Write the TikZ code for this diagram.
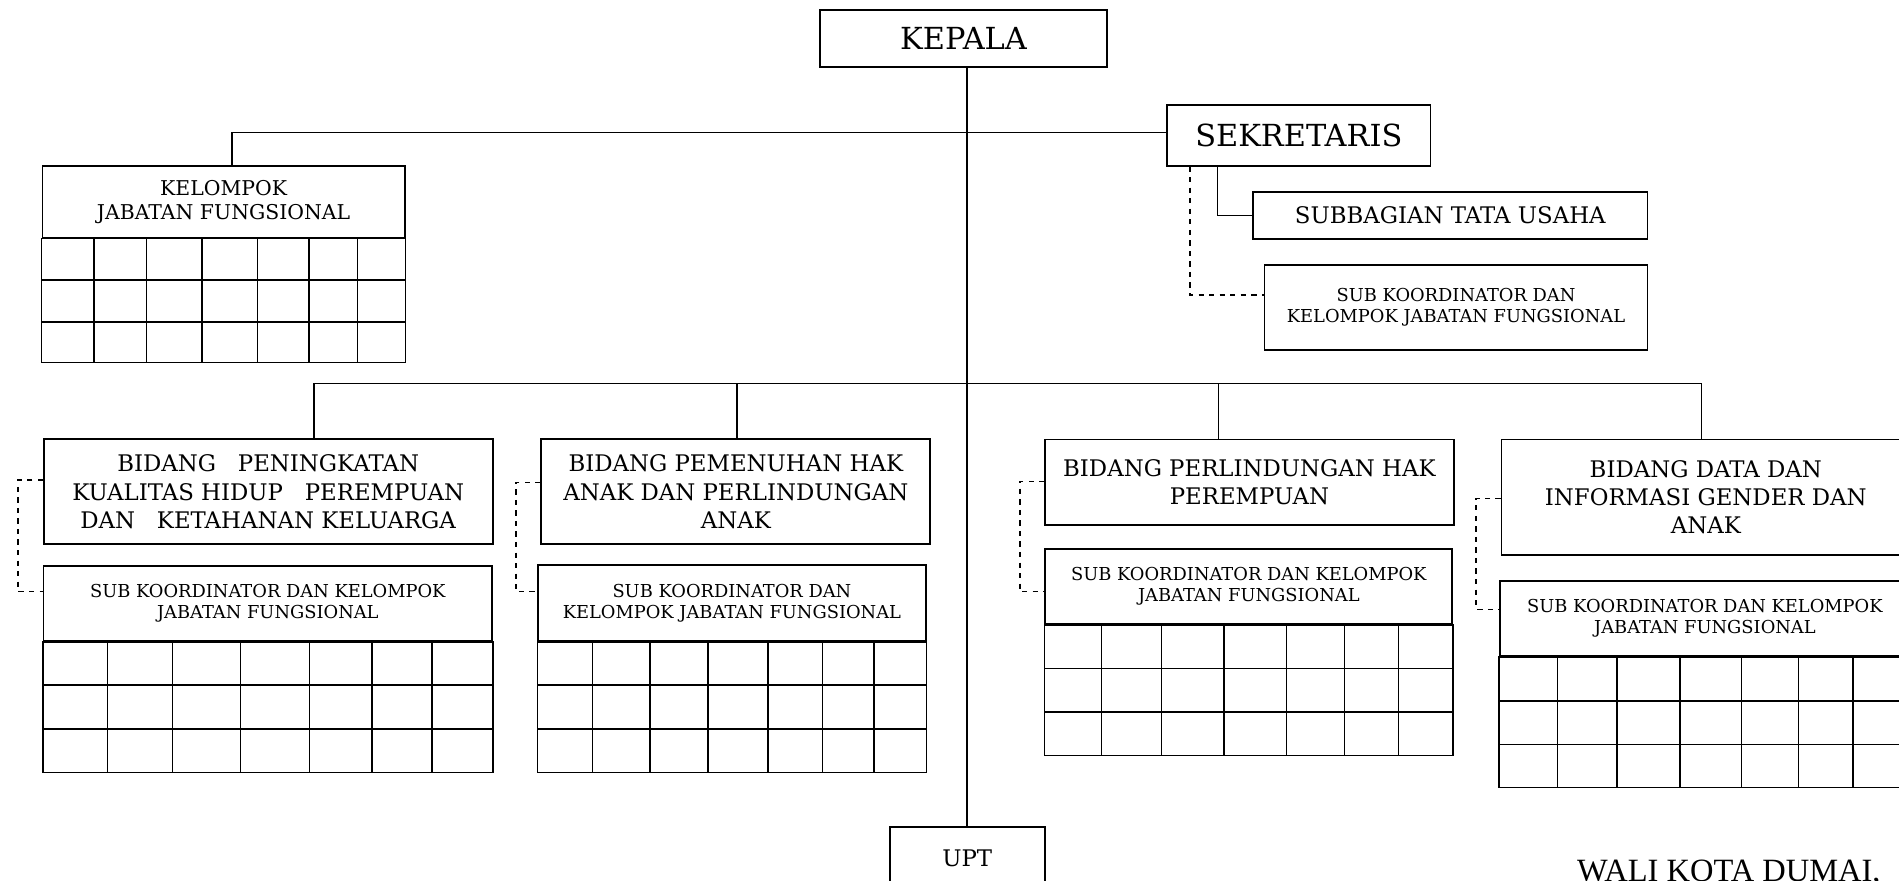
\documentclass[tikz,border=0pt]{standalone}
\usepackage{fontspec}
\setmainfont{DejaVu Serif}
\newfontfamily\walifont{Liberation Serif}

\begin{document}
\begin{tikzpicture}[x=0.02cm,y=-0.02cm,
  kotak/.style={draw,line width=1pt,rectangle,align=center,inner sep=2pt},
  garis/.style={line width=0.9pt},
  putus/.style={line width=0.9pt,dashed},
  besar/.style={font=\fontsize{17.3}{20}\selectfont},
  sedang/.style={font=\fontsize{13}{16.1}\selectfont},
  kjfteks/.style={font=\fontsize{11.6}{13.8}\selectfont},
  kecil/.style={font=\fontsize{10.15}{12}\selectfont}]

\useasboundingbox (0,0) rectangle (1899,881);

% tabel kosong di bawah kotak judul
\def\kisi#1#2#3#4{
  \draw[garis] (#1.south west) rectangle (#1.east |- 0,#2);
  \foreach \yb in {#3} \draw[garis] (#1.west |- 0,\yb) -- (#1.east |- 0,\yb);
  \foreach \xk in {#4} \draw[garis] (\xk,0 |- #1.south) -- (\xk,#2);
}

% pimpinan
\node[kotak,besar,minimum width=5.74cm,minimum height=1.14cm] (kepala) at (963.5,38.5) {KEPALA};
\node[kotak,besar,minimum width=5.27cm,minimum height=1.21cm] (sekretaris) at (1298.8,135.4) {SEKRETARIS};
\node[kotak,sedang,minimum width=7.89cm,minimum height=0.95cm] (tu) at (1450.3,215.4) {SUBBAGIAN TATA USAHA};
\node[kotak,kecil,minimum width=7.66cm,minimum height=1.7cm] (skj0) at (1456,307.5)
  {SUB KOORDINATOR DAN\\KELOMPOK JABATAN FUNGSIONAL};
\node[kotak,kjfteks,minimum width=7.25cm,minimum height=1.44cm] (kjf) at (223.6,201.7)
  {KELOMPOK\\JABATAN FUNGSIONAL};
\kisi{kjf}{362.7}{280,322}{93.9,146.7,201.8,257.6,309,357.6}

% bidang
\node[kotak,sedang,minimum width=8.98cm,minimum height=2.1cm] (b1) at (268.2,491.8)
  {BIDANG~~~PENINGKATAN\\KUALITAS HIDUP~~~PEREMPUAN\\DAN~~~KETAHANAN KELUARGA};
\node[kotak,sedang,minimum width=7.78cm,minimum height=2.1cm] (b2) at (735.8,491.8)
  {BIDANG PEMENUHAN HAK\\ANAK DAN PERLINDUNGAN\\ANAK};
\node[kotak,sedang,minimum width=8.17cm,minimum height=1.71cm] (b3) at (1249.4,482.2)
  {BIDANG PERLINDUNGAN HAK\\PEREMPUAN};
\node[kotak,sedang,minimum width=8.17cm,minimum height=2.31cm] (b4) at (1705.8,497.2)
  {BIDANG DATA DAN\\INFORMASI GENDER DAN\\ANAK};

% sub koordinator
\node[kotak,kecil,minimum width=8.97cm,minimum height=1.51cm] (s1) at (267.8,603.4)
  {SUB KOORDINATOR DAN KELOMPOK\\JABATAN FUNGSIONAL};
\node[kotak,kecil,minimum width=7.75cm,minimum height=1.52cm] (s2) at (731.9,603)
  {SUB KOORDINATOR DAN\\KELOMPOK JABATAN FUNGSIONAL};
\node[kotak,kecil,minimum width=8.14cm,minimum height=1.5cm] (s3) at (1248.8,586.5)
  {SUB KOORDINATOR DAN KELOMPOK\\JABATAN FUNGSIONAL};
\node[kotak,kecil,minimum width=8.21cm,minimum height=1.5cm] (s4) at (1704.9,618.5)
  {SUB KOORDINATOR DAN KELOMPOK\\JABATAN FUNGSIONAL};
\kisi{s1}{772.3}{685,729}{107.3,172.7,240.6,309.7,372.1,432.1}
\kisi{s2}{772.3}{685,729}{592.7,649.7,707.9,767.9,822.4,873.9}
\kisi{s3}{755.3}{668.7,712}{1101.5,1161.5,1224,1286.4,1344.5,1398.5}
\kisi{s4}{787.3}{701,744.3}{1557.3,1616.7,1679.7,1741.5,1798.5,1853}

\node[kotak,sedang,minimum width=3.1cm,minimum height=1.25cm] (upt) at (967.2,858) {UPT};
\node[anchor=base west,font=\walifont\fontsize{18.5}{22}\selectfont] (wali) at (1571,881) {WALI KOTA DUMAI,};

% garis komando
\coordinate (cabangkjf) at (232,132.7);
\draw[garis] (kepala.south -| upt.north) -- (upt.north);
\draw[garis] (sekretaris.west |- cabangkjf) -- (cabangkjf) -- (cabangkjf |- kjf.north);
\draw[garis] (1217.3,0 |- sekretaris.south) |- (tu.west);
\draw[putus] (1190,0 |- sekretaris.south) |- (skj0.west |- 0,295);

\draw[garis] (314,383.5) -- (1701.5,383.5);
\foreach \xt/\bd in {314/b1,737/b2,1218.5/b3,1701.5/b4}
  \draw[garis] (\xt,383.5) -- (\xt,0 |- \bd.north);

% garis koordinasi
\foreach \bd/\sb/\xp/\ya/\yb in {b1/s1/18/480/591.7,b2/s2/515.8/482.3/591.7,
    b3/s3/1019.7/481.7/591.7,b4/s4/1476/498.3/609.3}
  \draw[putus] (\bd.west |- 0,\ya) -- (\xp,\ya) -- (\xp,\yb) -- (\sb.west |- 0,\yb);

\end{tikzpicture}
\end{document}
